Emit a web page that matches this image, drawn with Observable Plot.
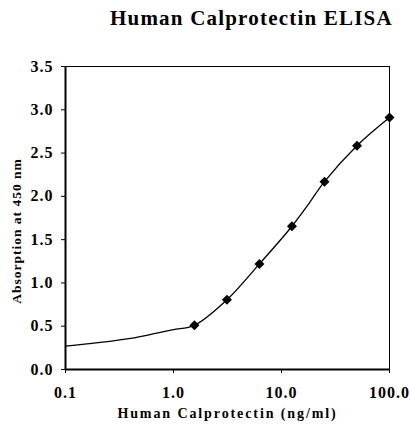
<!DOCTYPE html>
<html><head><meta charset="utf-8">
<script src="https://cdn.jsdelivr.net/npm/d3@7"></script>
<script src="https://cdn.jsdelivr.net/npm/@observablehq/plot@0.6"></script>
<style>
body{margin:0;background:#fff;width:410px;height:428px;overflow:hidden}
#title{height:40px;position:relative;font-family:"Liberation Serif",serif;font-weight:bold;font-size:21px;color:#000}
#title span{position:absolute;left:110px;top:6px;letter-spacing:1.2px;white-space:nowrap}
svg text{font-family:"Liberation Serif",serif;font-weight:bold}
g[aria-label="x-axis label"] text{letter-spacing:1.9px;font-size:14px}
g[aria-label="text"] text{letter-spacing:1px;font-size:13.5px}
g[aria-label="x-axis tick label"] text, g[aria-label="y-axis tick label"] text{letter-spacing:1px;font-size:16px}
</style></head><body>
<div id="title"><span>Human Calprotectin ELISA</span></div>
<div id="chart"></div>
<script>
// Standard points (ng/ml, absorbance at 450 nm)
const concentrations = [1.5625, 3.125, 6.25, 12.5, 25, 50, 100];
const absorbance = [0.51, 0.805, 1.22, 1.655, 2.17, 2.585, 2.91];
// Smoothed curve support points as drawn
const curveConc = [0.1, 0.2, 0.4, 0.7, 1.0, 1.5625, 3.125, 6.25, 12.5, 18, 25, 50, 100];
const curveAbs = [0.27, 0.31, 0.36, 0.42, 0.46, 0.51, 0.805, 1.22, 1.655, 1.92, 2.17, 2.585, 2.91];
const xTicks = [0.1, 1, 10, 100];
const yTicks = [0, 0.5, 1, 1.5, 2, 2.5, 3, 3.5];
const xLabel = "Human Calprotectin (ng/ml)";
const yLabel = "Absorption at 450 nm";

const points = concentrations.map((c, i) => ({c, a: absorbance[i]}));
const curve = curveConc.map((c, i) => ({c, a: curveAbs[i]}));

const chart = Plot.plot({
  width: 410,
  height: 388,
  marginLeft: 65,
  marginRight: 21,
  marginTop: 26,
  marginBottom: 59,
  x: {type: "log", domain: [0.1, 100]},
  y: {domain: [0, 3.5]},
  style: {color: "#000", background: "#fff"},
  marks: [
    Plot.frame({stroke: "#000", strokeWidth: 1}),
    Plot.axisX({ticks: xTicks, tickFormat: d => d.toFixed(1), tickSize: 4, tickPadding: 13,
      label: xLabel, labelAnchor: "center", labelArrow: "none", labelOffset: 48}),
    Plot.axisY({ticks: yTicks, tickFormat: d => d.toFixed(1), tickSize: 4, tickPadding: 8, label: null}),
    Plot.text([yLabel], {text: d => d, frameAnchor: "left", textAnchor: "middle", lineAnchor: "middle", rotate: -90, dx: -49, dy: 13}),
    Plot.ruleX([0.1], {stroke: "#000", strokeWidth: 2}),
    Plot.ruleY([0], {stroke: "#000", strokeWidth: 2}),
    Plot.line(curve, {x: "c", y: "a", curve: "catmull-rom", stroke: "#000", strokeWidth: 1.3}),
    Plot.dot(points, {x: "c", y: "a", symbol: "diamond2", r: 4.5, fill: "#000", stroke: "none"})
  ]
});
document.getElementById("chart").append(chart);
</script>
</body></html>
